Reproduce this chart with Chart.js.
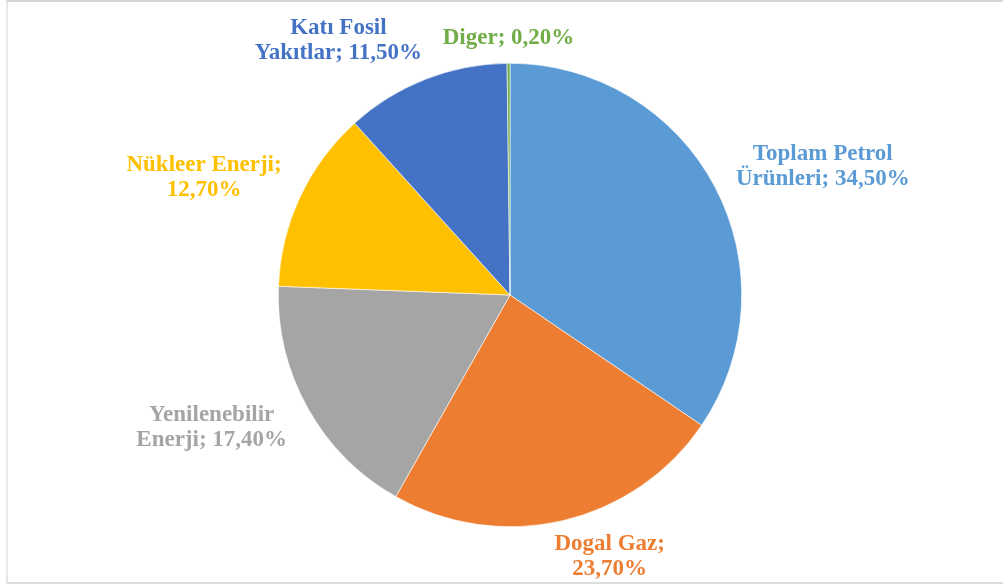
<!DOCTYPE html>
<html>
<head>
<meta charset="utf-8">
<script src="https://cdn.jsdelivr.net/npm/chart.js@4.4.1/dist/chart.umd.min.js"></script>
<style>
  html, body { margin: 0; padding: 0; background: #ffffff; }
  #wrap { position: relative; width: 1003px; height: 588px; }
  #frame { position: absolute; left: 6px; top: 0; width: 997px; height: 584px;
           border-top: 2px solid #d6d6d6; border-left: 2px solid #e8e8e8; border-bottom: 2px solid #dcdcdc;
           box-sizing: border-box; pointer-events: none; }
  canvas { position: absolute; left: 0; top: 0; }
</style>
</head>
<body>
<div id="wrap">
  <canvas id="c" width="1003" height="588"></canvas>
  <div id="frame"></div>
</div>
<script>
// ---- data ----
const categories = ['Toplam Petrol Ürünleri', 'Dogal Gaz', 'Yenilenebilir Enerji', 'Nükleer Enerji', 'Katı Fosil Yakıtlar', 'Diger'];
const values = [34.5, 23.7, 17.4, 12.7, 11.5, 0.2];
const sliceColors = ['#5B9BD5', '#ED7D31', '#A5A5A5', '#FFC000', '#4472C4', '#70AD47'];
const firstLineWords = [2, 2, 1, 2, 2, 2];

// ---- label layout (offsets from the slice's outer mid-point, px) ----
const labelOffsets = [[108, -20], [47, 36], [-96, 20], [-96, -19], [-87, -39], [0, -25]];

function fmt(v) { return v.toFixed(2).replace('.', ',') + '%'; }
function labelLines(i) {
  const words = (categories[i] + '; ' + fmt(values[i])).split(' ');
  const n = firstLineWords[i];
  const l1 = words.slice(0, n).join(' ');
  const l2 = words.slice(n).join(' ');
  return l2 ? [l1, l2] : [l1];
}

const labelPlugin = {
  id: 'excelLabels',
  afterDatasetsDraw(chart) {
    const ctx = chart.ctx;
    const meta = chart.getDatasetMeta(0);
    ctx.save();
    ctx.font = 'bold 23px "Liberation Serif", "Times New Roman", serif';
    ctx.textAlign = 'center';
    ctx.textBaseline = 'middle';
    const lh = 25;
    meta.data.forEach((arc, i) => {
      const p = arc.getProps(['x', 'y', 'startAngle', 'endAngle', 'outerRadius'], true);
      const mid = (p.startAngle + p.endAngle) / 2;
      const ax = p.x + Math.cos(mid) * p.outerRadius + labelOffsets[i][0];
      const ay = p.y + Math.sin(mid) * p.outerRadius + labelOffsets[i][1];
      const lines = labelLines(i);
      ctx.fillStyle = sliceColors[i];
      const top = ay - (lines.length - 1) * lh / 2;
      lines.forEach((t, k) => ctx.fillText(t, ax, top + k * lh));
    });
    ctx.restore();
  }
};

new Chart(document.getElementById('c'), {
  type: 'pie',
  data: {
    labels: categories,
    datasets: [{
      data: values,
      backgroundColor: sliceColors,
      borderColor: '#ffffff',
      borderWidth: 0.6
    }]
  },
  options: {
    responsive: false,
    animation: false,
    layout: { padding: { left: 278, right: 261, top: 63, bottom: 61 } },
    plugins: { legend: { display: false }, tooltip: { enabled: false } }
  },
  plugins: [labelPlugin]
});
</script>
</body>
</html>
